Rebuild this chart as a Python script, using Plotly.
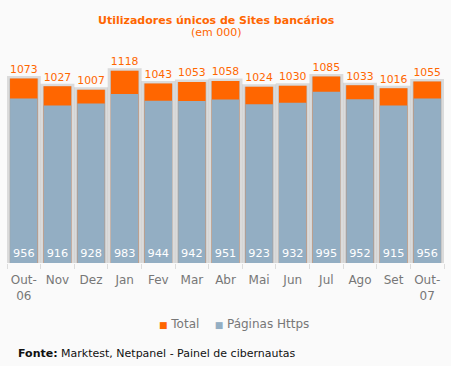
import plotly.graph_objects as go

months = ["Out-<br>06", "Nov", "Dez", "Jan", "Fev", "Mar", "Abr", "Mai", "Jun", "Jul", "Ago", "Set", "Out-<br>07"]
total = [1073, 1027, 1007, 1118, 1043, 1053, 1058, 1024, 1030, 1085, 1033, 1016, 1055]
https = [956, 916, 928, 983, 944, 942, 951, 923, 932, 995, 952, 915, 956]

ORANGE = "#FF6600"
BLUE = "#93AEC3"
FONT = "Verdana, DejaVu Sans, sans-serif"

fig = go.Figure()
# soft shadow behind bars
fig.add_trace(go.Bar(x=months, y=total, width=0.86, marker=dict(color="rgba(175,175,175,0.6)",
                     line=dict(color="rgba(160,160,160,0.35)", width=5)),
                     showlegend=False, hoverinfo="skip"))
fig.add_trace(go.Bar(x=months, y=total, name="Total", width=0.82,
                     marker=dict(color=ORANGE, line=dict(width=0)),
                     text=total, textposition="outside", cliponaxis=False,
                     textfont=dict(color=ORANGE, size=12, family=FONT)))
fig.add_trace(go.Bar(x=months, y=https, name="Páginas Https", width=0.82,
                     marker=dict(color=BLUE, line=dict(width=0)),
                     text=https, textposition="inside", insidetextanchor="start", textangle=0,
                     textfont=dict(color="white", size=12, family=FONT)))

fig.update_layout(
    width=451, height=366,
    barmode="overlay",
    paper_bgcolor="#FAFAFA", plot_bgcolor="#FAFAFA",
    margin=dict(l=7, r=7, t=48, b=103),
    font=dict(family=FONT, size=11, color="#777777"),
    xaxis=dict(showgrid=False, tickson="boundaries", ticks="outside", ticklen=5,
               tickcolor="#DDDDDD", showline=False, ticklabelstandoff=8, tickangle=0,
               tickfont=dict(size=12, color="#777777")),
    yaxis=dict(range=[0, 1250], visible=False, showgrid=False),
    showlegend=False,
    annotations=[
        dict(text="<b>Utilizadores únicos de Sites bancários</b>", x=0.48, y=1.13, xref="paper", yref="paper",
             showarrow=False, font=dict(color=ORANGE, size=11, family=FONT), xanchor="center", yanchor="middle"),
        dict(text="(em 000)", x=0.48, y=1.07, xref="paper", yref="paper",
             showarrow=False, font=dict(color=ORANGE, size=11, family=FONT), xanchor="center", yanchor="middle"),
        dict(text="<span style='color:" + ORANGE + ";font-size:9px'>■</span> Total    <span style='color:" + BLUE + ";font-size:9px'>■</span> Páginas Https",
             x=0.52, y=-0.284, xref="paper", yref="paper", showarrow=False, xanchor="center", yanchor="middle",
             font=dict(color="#777777", size=12, family=FONT)),
        dict(text="<b>Fonte:</b> Marktest, Netpanel - Painel de cibernautas", x=0.02, y=-0.419,
             xref="paper", yref="paper", showarrow=False, xanchor="left", yanchor="middle",
             font=dict(color="#111111", size=11, family=FONT)),
    ],
)
fig.write_html("out.html", config={"displayModeBar": False},
               post_script="document.body.style.margin='0';document.body.style.background='#FAFAFA';")
